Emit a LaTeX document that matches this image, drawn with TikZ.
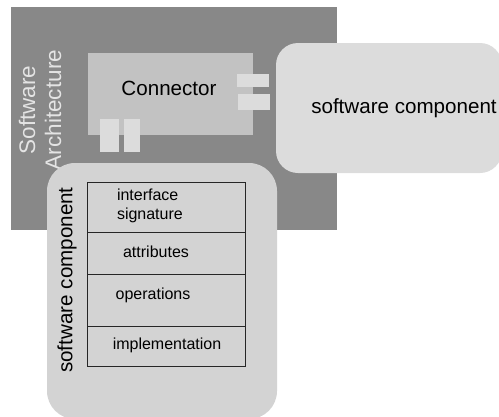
\documentclass[tikz,border=0pt]{standalone}
\usepackage{fontspec}
\setmainfont{Liberation Sans}
\definecolor{archgray}{HTML}{888888}
\definecolor{connfill}{HTML}{C2C2C2}
\definecolor{tabfill}{HTML}{DCDCDC}
\definecolor{compfill}{HTML}{DCDCDC}
\definecolor{lowfill}{HTML}{D3D3D3}
\definecolor{archtext}{HTML}{E4E4E4}

\begin{document}
\begin{tikzpicture}
  [x=1pt,y=-1pt,
   every node/.style={inner sep=0pt,outer sep=0pt},
   plate/.style={rectangle,draw=none},
   tab/.style={rectangle,fill=tabfill},
   row/.style={rectangle,draw=black!85,line width=0.8pt,minimum width=158pt},
   big/.style={font=\fontsize{20.6}{24}\selectfont},
   small/.style={font=\fontsize{16}{19}\selectfont}]
  \useasboundingbox (0,0) rectangle (499,416);

  \node[plate,fill=archgray,minimum width=326pt,minimum height=223pt] (arch) at (174,118.5) {};
  \node[plate,fill=connfill,minimum width=165pt,minimum height=82pt] (conn) at (170.5,94) {};
  \node[big] (conntext) at (169,88) {Connector};

  \foreach \name/\cx/\cy/\w/\h in {t1/253/80.5/32/13, t2/254/102/32/16, t3/109.5/135.5/19/33, t4/132/135.5/16/33}
    \node[tab,minimum width=\w pt,minimum height=\h pt] (\name) at (\cx,\cy) {};

  \node[plate,fill=compfill,rounded corners=22pt,minimum width=226pt,minimum height=130pt] (rcomp) at (389,108) {};
  \node[big] (rtext) at (404,108) {software component};

  \node[rotate=90,align=center,text=archtext,font=\fontsize{22.5}{26}\selectfont] (archtext) at (40,110) {Software\\Architecture};

  \node[plate,fill=lowfill,rounded corners=28pt,minimum width=230pt,minimum height=256pt] (lcomp) at (162,291) {};
  \node[big,rotate=90] (ltext) at (67,280) {software component};

  \foreach \name/\cy/\h in {sig/207/50, attr/253/42, ops/300/52, impl/346/40}
    \node[row,minimum height=\h pt] (\name) at (166,\cy) {};

  \node[small,align=left,anchor=west] (sigtext) at (117,206) {interface\\signature};
  \node[small] (attrtext) at (156,252) {attributes};
  \node[small] (opstext) at (153,295) {operations};
  \node[small] (impltext) at (167,345) {implementation};
\end{tikzpicture}
\end{document}
